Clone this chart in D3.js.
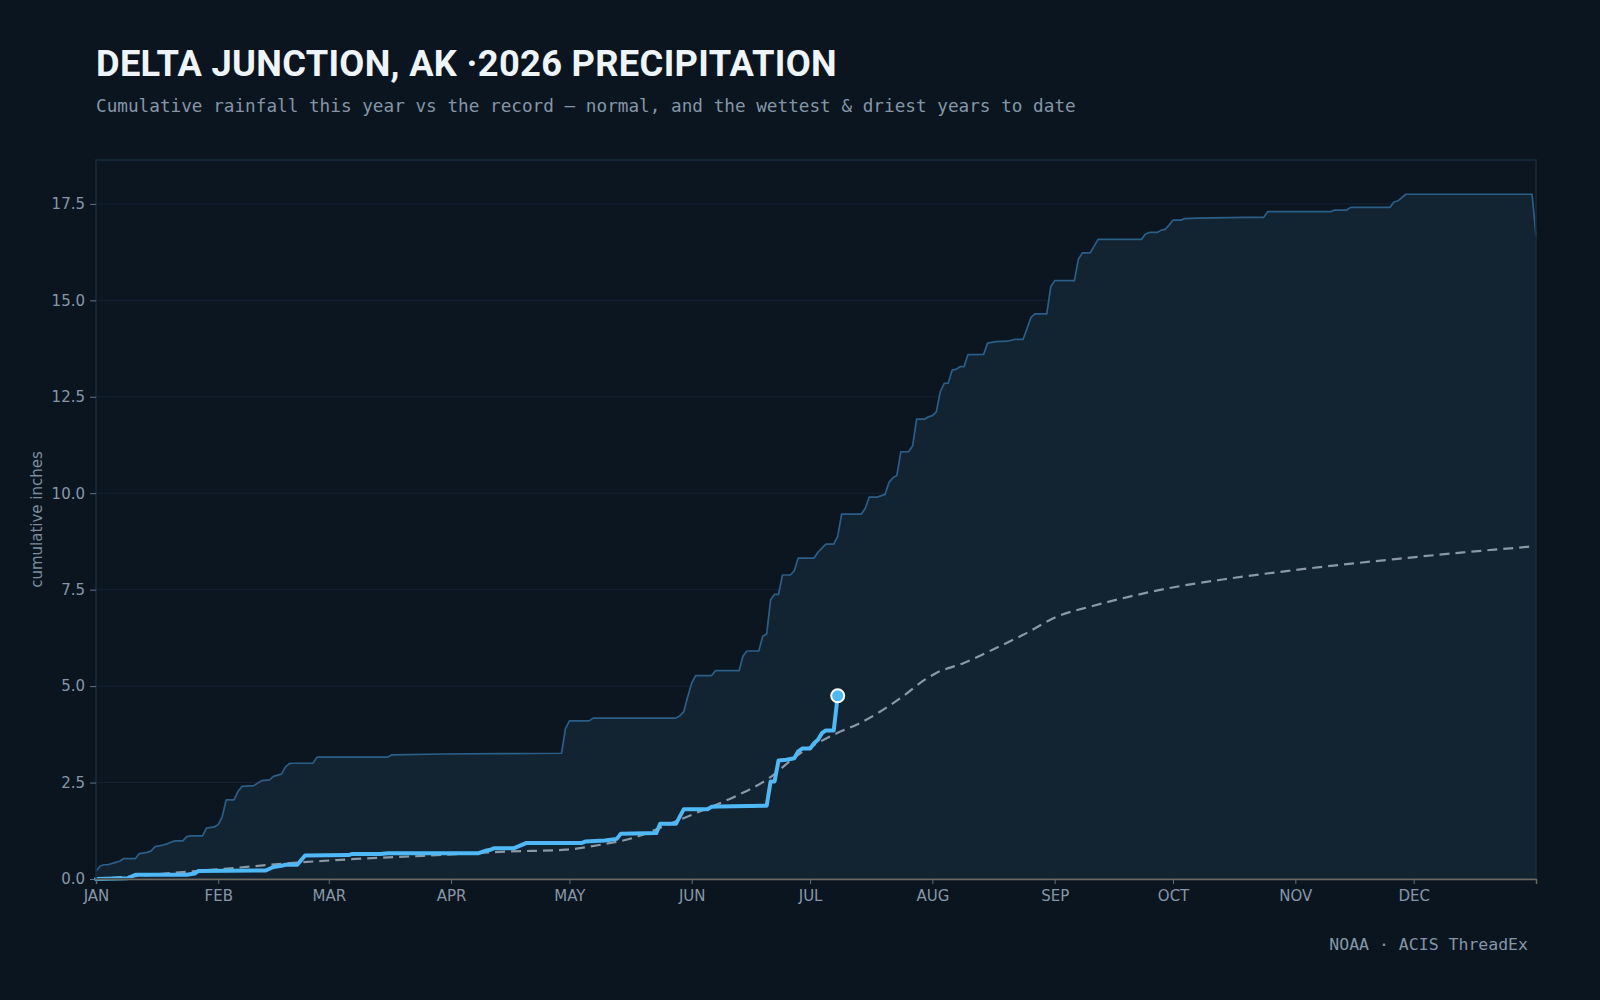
<!DOCTYPE html>
<html>
<head>
<meta charset="utf-8">
<script src="https://cdn.jsdelivr.net/npm/d3@7"></script>
<style>
  html, body { margin: 0; padding: 0; background: #0b151f; }
  #chart { width: 1600px; height: 1000px; }
</style>
</head>
<body>
<div id="chart"></div>
<script>
/**
 * CONSTANTS AND GLOBALS
 * */
const width = 1600,
  height = 1000,
  margin = { top: 160, bottom: 121, left: 96, right: 64 };

const yearStart = new Date(2026, 0, 1);

/**
 * DATA (day of year, cumulative inches)
 * */
// wettest year to date (upper edge of the record band)
const wetDays = [0, 1, 2, 3, 5, 6, 7, 10, 11, 13, 14, 15, 17, 18, 20, 22, 23, 24, 27, 28, 30, 31, 32, 33, 35, 36, 37, 40, 42, 44, 45, 47, 48, 49, 50, 55, 56, 74, 75, 88, 102, 118, 119, 120, 125, 126, 147, 148, 149, 150, 151, 152, 156, 157, 163, 164, 165, 168, 169, 170, 171, 172, 173, 174, 176, 177, 178, 182, 183, 185, 187, 188, 189, 194, 195, 196, 198, 200, 201, 202, 203, 204, 206, 207, 208, 210, 211, 212, 213, 214, 215, 216, 217, 218, 219, 220, 221, 225, 226, 228, 231, 233, 235, 236, 237, 238, 241, 242, 243, 248, 249, 250, 252, 254, 265, 266, 267, 269, 270, 271, 272, 273, 275, 276, 279, 291, 296, 297, 313, 314, 317, 318, 328, 329, 330, 332, 364, 365];
const wetVals = [0.20, 0.33, 0.37, 0.37, 0.43, 0.46, 0.53, 0.53, 0.66, 0.69, 0.73, 0.84, 0.88, 0.91, 0.99, 0.99, 1.10, 1.12, 1.12, 1.32, 1.35, 1.41, 1.62, 2.05, 2.05, 2.27, 2.40, 2.42, 2.55, 2.57, 2.66, 2.72, 2.90, 2.99, 3.00, 3.00, 3.16, 3.16, 3.22, 3.24, 3.25, 3.26, 3.90, 4.10, 4.10, 4.17, 4.17, 4.23, 4.34, 4.73, 5.08, 5.27, 5.27, 5.40, 5.40, 5.78, 5.91, 5.91, 6.29, 6.35, 7.24, 7.38, 7.38, 7.88, 7.88, 7.99, 8.32, 8.32, 8.47, 8.68, 8.68, 8.88, 9.46, 9.46, 9.61, 9.90, 9.90, 9.97, 10.28, 10.40, 10.46, 11.07, 11.08, 11.23, 11.92, 11.92, 11.98, 12.01, 12.11, 12.63, 12.85, 12.85, 13.19, 13.21, 13.28, 13.28, 13.59, 13.60, 13.89, 13.93, 13.94, 13.99, 13.99, 14.27, 14.56, 14.65, 14.65, 15.35, 15.51, 15.51, 16.06, 16.23, 16.23, 16.58, 16.58, 16.72, 16.76, 16.76, 16.82, 16.84, 16.95, 17.08, 17.08, 17.12, 17.13, 17.15, 17.15, 17.30, 17.30, 17.34, 17.34, 17.41, 17.41, 17.55, 17.58, 17.75, 17.75, 16.67];

// driest year to date (lower edge of the record band)
const dryDays = [0, 365];
const dryVals = [0, 0];

// normal (dashed)
const normDays = [0, 7, 21, 32, 49, 66, 83, 104, 119, 128, 136, 145, 153, 162, 170, 178, 187, 194, 205, 210, 213, 220, 228, 235, 244, 252, 262, 272, 286, 304, 330, 346, 364];
const normVals = [0, 0.05, 0.17, 0.26, 0.41, 0.52, 0.60, 0.71, 0.76, 0.89, 1.06, 1.41, 1.75, 2.14, 2.57, 3.22, 3.74, 4.06, 4.77, 5.16, 5.34, 5.60, 5.98, 6.33, 6.82, 7.06, 7.32, 7.54, 7.77, 8.01, 8.30, 8.46, 8.62];

// 2026 so far
const curDays = [0, 8, 10, 23, 25, 26, 43, 45, 47, 48, 51, 53, 64, 65, 72, 74, 97, 99, 100, 101, 106, 109, 123, 124, 129, 132, 133, 142, 143, 147, 149, 155, 156, 158, 170, 171, 172, 173, 175, 177, 178, 179, 181, 182, 183, 184, 185, 187, 188];
const curVals = [0, 0.02, 0.11, 0.11, 0.14, 0.21, 0.22, 0.31, 0.34, 0.37, 0.37, 0.61, 0.62, 0.65, 0.65, 0.67, 0.67, 0.74, 0.76, 0.80, 0.80, 0.93, 0.93, 0.97, 1.00, 1.04, 1.17, 1.19, 1.43, 1.43, 1.81, 1.81, 1.87, 1.88, 1.90, 2.53, 2.53, 3.07, 3.09, 3.13, 3.31, 3.38, 3.38, 3.52, 3.61, 3.78, 3.85, 3.85, 4.75];

const yTicks = [0, 2.5, 5, 7.5, 10, 12.5, 15, 17.5];

const title = "DELTA JUNCTION, AK ·2026 PRECIPITATION";
const subtitle = "Cumulative rainfall this year vs the record — normal, and the wettest & driest years to date";
const source = "NOAA · ACIS ThreadEx";

// turn day/value arrays into {date, v} rows
const toRows = (days, vals) => days.map((d, i) => ({ date: d3.timeDay.offset(yearStart, d), v: vals[i] }));
const wet = toRows(wetDays, wetVals);
const dry = toRows(dryDays, dryVals);
const normal = toRows(normDays, normVals);
const current = toRows(curDays, curVals);

/**
 * DRAW
 * */
const svg = d3.select("#chart")
  .append("svg")
  .attr("width", width)
  .attr("height", height);

svg.append("rect")
  .attr("width", width)
  .attr("height", height)
  .attr("fill", "#0b151f");

const x = d3.scaleTime()
  .domain([yearStart, d3.timeYear.offset(yearStart, 1)])
  .range([margin.left, width - margin.right]);

const y = d3.scaleLinear()
  .domain([0, d3.max(wetVals) * 1.05])
  .range([height - margin.bottom, margin.top]);

// plot background
svg.append("rect")
  .attr("x", margin.left)
  .attr("y", margin.top)
  .attr("width", width - margin.left - margin.right)
  .attr("height", height - margin.top - margin.bottom)
  .attr("fill", "#0c1620");

// gridlines
svg.append("g")
  .selectAll("line")
  .data(yTicks.slice(1))
  .join("line")
  .attr("x1", margin.left)
  .attr("x2", width - margin.right)
  .attr("y1", d => y(d))
  .attr("y2", d => y(d))
  .attr("stroke", "#142333")
  .attr("stroke-width", 1);

// record band: driest -> wettest
const band = wet.map(d => ({ date: d.date, hi: d.v, lo: 0 }));
svg.append("path")
  .datum(band)
  .attr("fill", "#122332")
  .attr("d", d3.area()
    .x(d => x(d.date))
    .y0(d => y(d.lo))
    .y1(d => y(d.hi)));

svg.append("path")
  .datum(wet)
  .attr("fill", "none")
  .attr("stroke", "#2b5f88")
  .attr("stroke-width", 1.7)
  .attr("stroke-linejoin", "round")
  .attr("d", d3.line().x(d => x(d.date)).y(d => y(d.v)));

svg.append("path")
  .datum(dry)
  .attr("fill", "none")
  .attr("stroke", "#6c6a5e")
  .attr("stroke-width", 1.5)
  .attr("d", d3.line().x(d => x(d.date)).y(d => y(d.v)));

// normal
svg.append("path")
  .datum(normal)
  .attr("fill", "none")
  .attr("stroke", "#8b98a5")
  .attr("stroke-width", 2.2)
  .attr("stroke-dasharray", "10,6")
  .attr("d", d3.line().curve(d3.curveMonotoneX).x(d => x(d.date)).y(d => y(d.v)));

// this year
svg.append("path")
  .datum(current)
  .attr("fill", "none")
  .attr("stroke", "#4fb9f7")
  .attr("stroke-width", 4)
  .attr("stroke-linejoin", "round")
  .attr("stroke-linecap", "round")
  .attr("d", d3.line().x(d => x(d.date)).y(d => y(d.v)));

const last = current[current.length - 1];
svg.append("circle")
  .attr("cx", x(last.date))
  .attr("cy", y(last.v))
  .attr("r", 6.5)
  .attr("fill", "#4fb9f7")
  .attr("stroke", "#ffffff")
  .attr("stroke-width", 2);

// plot frame
svg.append("rect")
  .attr("x", margin.left)
  .attr("y", margin.top)
  .attr("width", width - margin.left - margin.right)
  .attr("height", height - margin.top - margin.bottom)
  .attr("fill", "none")
  .attr("stroke", "#182b3c")
  .attr("stroke-width", 1.5);

// axes (month ticks Jan..Dec only)
const monthTicks = d3.timeMonth.range(yearStart, d3.timeYear.offset(yearStart, 1));
const xAxis = svg.append("g")
  .attr("transform", `translate(0,${height - margin.bottom})`)
  .call(d3.axisBottom(x)
    .tickValues(monthTicks)
    .tickFormat(d => d3.timeFormat("%b")(d).toUpperCase())
    .tickSizeOuter(0)
    .tickSize(5)
    .tickPadding(6));

const yAxis = svg.append("g")
  .attr("transform", `translate(${margin.left},0)`)
  .call(d3.axisLeft(y)
    .tickValues(yTicks)
    .tickFormat(d3.format(".1f"))
    .tickSizeOuter(0)
    .tickSize(6)
    .tickPadding(5));

xAxis.select(".domain").attr("stroke", "#6c6a5e").attr("stroke-width", 1.5);
yAxis.select(".domain").remove();
[xAxis, yAxis].forEach(g => {
  g.selectAll(".tick line").attr("stroke", "#5f7184");
  g.selectAll(".tick text")
    .attr("fill", "#8797a9")
    .style("font-family", "'DejaVu Sans', sans-serif")
    .style("font-size", "15px");
});

svg.append("text")
  .attr("transform", `translate(42,${(margin.top + height - margin.bottom) / 2}) rotate(-90)`)
  .attr("text-anchor", "middle")
  .attr("fill", "#7d8d9f")
  .style("font-family", "'DejaVu Sans', sans-serif")
  .style("font-size", "15px")
  .text("cumulative inches");

// titles
svg.append("text")
  .attr("x", 96)
  .attr("y", 76)
  .attr("fill", "#edf4fa")
  .style("font-family", "Roboto, sans-serif")
  .style("font-weight", 700)
  .style("font-size", "36.3px")
  .style("letter-spacing", "0.3px")
  .text(title);

svg.append("text")
  .attr("x", 96)
  .attr("y", 112)
  .attr("fill", "#8596a8")
  .style("font-family", "'DejaVu Sans Mono', monospace")
  .style("font-size", "17.7px")
  .text(subtitle);

svg.append("text")
  .attr("x", 1528)
  .attr("y", 950)
  .attr("text-anchor", "end")
  .attr("fill", "#8596a8")
  .style("font-family", "'DejaVu Sans Mono', monospace")
  .style("font-size", "16.5px")
  .text(source);
</script>
</body>
</html>
